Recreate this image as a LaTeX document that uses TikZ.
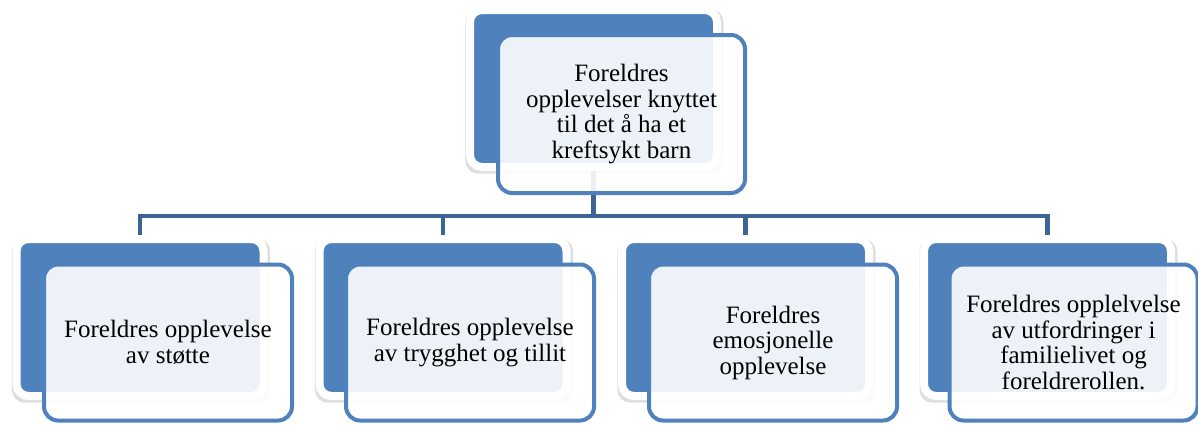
\documentclass[tikz,border=0pt]{standalone}
\usepackage{fontspec}
\setmainfont{Liberation Serif}
\usetikzlibrary{shadows}
\definecolor{boxblue}{RGB}{79,129,189}
\definecolor{linkblue}{RGB}{60,101,150}
\begin{document}
\begin{tikzpicture}[x=1pt,y=-1pt,
  backbox/.style={rectangle, rounded corners=12pt, fill=boxblue, draw=white, line width=8pt,
    minimum width=247pt, minimum height=157pt, inner sep=0pt,
    drop shadow={shadow xshift=1pt, shadow yshift=-3pt, shadow scale=1.045, opacity=0.13, fill=black}},
  frontbox/.style={rectangle, rounded corners=14pt, fill=white, fill opacity=0.9, text opacity=1,
    draw=boxblue, line width=4pt, minimum width=248pt, minimum height=156pt, inner sep=2pt,
    align=center, font=\fontsize{25}{25.5}\selectfont},
  conn/.style={draw=linkblue, line width=4.5pt}]
\useasboundingbox (0,0) rectangle (1198,424);
\coordinate (bus) at (0,216);
% connectors (drawn first, behind boxes)
\path (593.5,88.5) coordinate (tbc);
\path (140,317.5) coordinate (b1c) (443,317.5) coordinate (b2c) (745.5,317.5) coordinate (b3c) (1047.5,317.5) coordinate (b4c);
\draw[conn] (tbc) -- (tbc |- bus);
\draw[conn] (b1c) -- (b1c |- bus) -- (b4c |- bus) -- (b4c);
\draw[conn] (b2c) -- (b2c |- bus);
\draw[conn] (b3c) -- (b3c |- bus);
% back boxes
\node[backbox] (tb) at (tbc) {};
\node[backbox] (b1) at (b1c) {};
\node[backbox] (b2) at (b2c) {};
\node[backbox] (b3) at (b3c) {};
\node[backbox] (b4) at (b4c) {};
% front boxes
\node[frontbox, minimum height=158pt, minimum width=247pt] (t) at (621.5,114) {Foreldres\\opplevelser knyttet\\til det å ha et\\kreftsykt barn};
\node[frontbox] (f1) at (168,342.5) {Foreldres opplevelse\\av støtte};
\node[frontbox] (f2) at (470,342.5) {Foreldres opplevelse\\av trygghet og tillit};
\node[frontbox] (f3) at (773,342.5) {Foreldres\\emosjonelle\\opplevelse};
\node[frontbox] (f4) at (1073.5,342.5) {Foreldres opplelvelse\\av utfordringer i\\familielivet og\\foreldrerollen.};
\end{tikzpicture}
\end{document}
